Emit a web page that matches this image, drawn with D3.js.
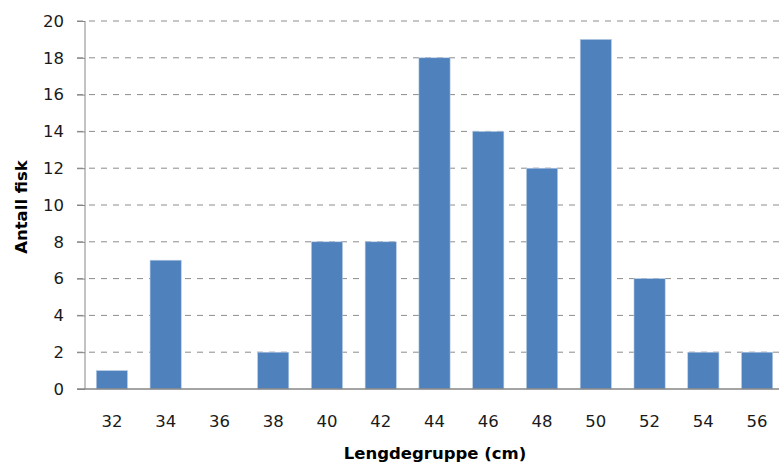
<!DOCTYPE html>
<html>
<head>
<meta charset="utf-8">
<script src="https://cdn.jsdelivr.net/npm/d3@7"></script>
<style>
  body { margin: 0; background: #fff; }
  text { font-family: "DejaVu Sans", Verdana, sans-serif; }
</style>
</head>
<body>
<script>
// length groups and fish counts
var groups = ["32", "34", "36", "38", "40", "42", "44", "46", "48", "50", "52", "54", "56"]
var counts = [1, 7, 0, 2, 8, 8, 18, 14, 12, 19, 6, 2, 2]
var yTicks = [0, 2, 4, 6, 8, 10, 12, 14, 16, 18, 20]

var W = 779, H = 464
var margin = { top: 21, right: -5, bottom: 75, left: 85 }
var width = W - margin.left - margin.right,
    height = H - margin.top - margin.bottom;

var svg = d3.select('body').append('svg')
  .attr('width', W)
  .attr('height', H)

var g = svg.append('g')
  .attr('transform', 'translate(' + margin.left + ',' + margin.top + ')');

var x = d3.scaleBand().domain(groups).range([0, width]).paddingInner(0.42).paddingOuter(0.21);
var y = d3.scaleLinear().domain([0, 20]).range([height, 0]);

// gridlines
g.selectAll('.grid')
  .data(yTicks.filter(d => d > 0))
  .enter().append('line')
  .attr('x1', -8).attr('x2', width)
  .attr('y1', d => y(d)).attr('y2', d => y(d))
  .attr('stroke', '#8c8c8c')
  .attr('stroke-width', 1)
  .attr('stroke-dasharray', '6,6')

// bars
g.selectAll('.bar')
  .data(counts)
  .enter().append('rect')
  .attr('x', (d, i) => x(groups[i]))
  .attr('y', d => y(d))
  .attr('width', x.bandwidth())
  .attr('height', d => height - y(d))
  .attr('fill', '#4f81bd')
  .attr('stroke', '#b9cde5')
  .attr('stroke-width', 0.6)

// y axis
var yAxis = d3.axisLeft(y).tickValues(yTicks).tickSize(8).tickPadding(13);
var ya = g.append('g').call(yAxis)
ya.select('.domain').attr('stroke', '#868686').attr('d', 'M0,' + height + 'V0')
ya.selectAll('.tick line').attr('stroke', '#868686')
ya.selectAll('text').attr('font-size', 16.5).attr('fill', '#1a1a1a')

// x axis
var xAxis = d3.axisBottom(x).tickSize(0).tickPadding(26);
var xa = g.append('g').attr('transform', 'translate(0,' + height + ')').call(xAxis)
xa.select('.domain').attr('stroke', '#868686').attr('stroke-width', 1.5).attr('d', 'M-8,0H' + width)
xa.selectAll('text').attr('font-size', 16.5).attr('fill', '#1a1a1a')

// axis titles
svg.append('text')
  .attr('x', 435).attr('y', 459)
  .attr('text-anchor', 'middle')
  .attr('font-size', 16.5).attr('font-weight', 'bold')
  .text('Lengdegruppe (cm)')

svg.append('text')
  .attr('transform', 'translate(27,207) rotate(-90)')
  .attr('text-anchor', 'middle')
  .attr('font-size', 16.5).attr('font-weight', 'bold')
  .text('Antall fisk')
</script>
</body>
</html>
